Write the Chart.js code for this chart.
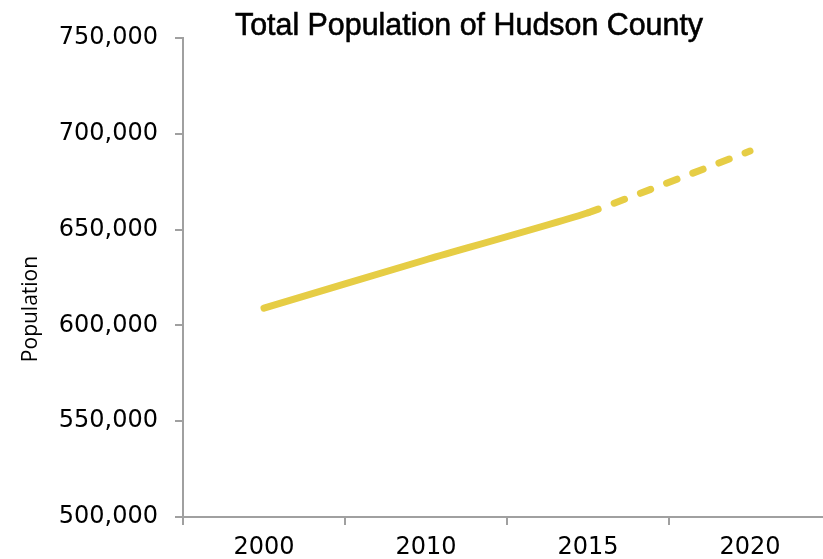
<!DOCTYPE html>
<html>
<head>
<meta charset="utf-8">
<script src="https://cdn.jsdelivr.net/npm/chart.js@4/dist/chart.umd.min.js"></script>
<style>
  html, body { margin: 0; padding: 0; background: #fff; width: 823px; height: 559px; overflow: hidden; }
  #wrap { width: 840px; height: 559px; }
</style>
</head>
<body>
<div id="wrap"><canvas id="c" width="840" height="559"></canvas></div>
<script>
const years = ['2000', '2010', '2015', '2020'];
const population = [608975, 634266, 658800, 691000];
const yTicks = [500000, 550000, 600000, 650000, 700000, 750000];
const chartTitle = 'Total Population of Hudson County';
const yAxisTitle = 'Population';

const axisGrey = '#A0A0A0';
const lineColor = '#E6CD45';
const tickFont = { family: '"DejaVu Sans", "Liberation Sans", Arial', size: 24 };

const textPlugin = {
  id: 'texts',
  afterDraw(chart) {
    const ctx = chart.ctx;
    // chart title
    ctx.save();
    ctx.font = '32px "Liberation Sans", Arial';
    ctx.fillStyle = '#000';
    ctx.strokeStyle = '#000';
    ctx.lineWidth = 0.6;
    ctx.textAlign = 'center';
    ctx.textBaseline = 'alphabetic';
    ctx.translate(469, 35);
    ctx.scale(0.95, 1);
    ctx.fillText(chartTitle, 0, 0);
    ctx.strokeText(chartTitle, 0, 0);
    ctx.restore();
    // y axis title
    ctx.save();
    ctx.font = '21px "Open Sans"';
    ctx.fillStyle = '#000';
    ctx.textAlign = 'center';
    ctx.textBaseline = 'middle';
    ctx.translate(31, 309);
    ctx.rotate(-Math.PI / 2);
    ctx.fillText(yAxisTitle, 0, 0);
    ctx.restore();
  }
};

new Chart(document.getElementById('c'), {
  type: 'line',
  data: {
    labels: years,
    datasets: [{
      data: population,
      borderColor: lineColor,
      borderWidth: 7,
      borderCapStyle: 'round',
      borderJoinStyle: 'round',
      pointRadius: 0,
      tension: 0.15,
      fill: false,
      segment: {
        borderDash: ctx => ctx.p0DataIndex >= 2 ? [11, 17] : undefined
      }
    }]
  },
  options: {
    responsive: false,
    animation: false,
    devicePixelRatio: 1,
    layout: { padding: { left: 0, right: 9, top: 38, bottom: 0 } },
    plugins: {
      legend: { display: false },
      tooltip: { enabled: false },
      title: { display: false }
    },
    scales: {
      x: {
        offset: true,
        grid: { offset: true, drawOnChartArea: false, drawTicks: true, tickLength: 8, color: axisGrey, lineWidth: 2 },
        border: { display: true, color: axisGrey, width: 2 },
        ticks: { color: '#000', font: tickFont, padding: 8, maxRotation: 0 },
        afterFit(scale) { scale.height = 42; }
      },
      y: {
        min: 500000,
        max: 750000,
        afterBuildTicks(scale) { scale.ticks = yTicks.map(v => ({ value: v })); },
        grid: { drawOnChartArea: false, drawTicks: true, tickLength: 8, color: axisGrey, lineWidth: 2 },
        border: { display: true, color: axisGrey, width: 2 },
        ticks: {
          color: '#000',
          font: tickFont,
          padding: 17,
          callback: v => Number(v).toLocaleString('en-US')
        },
        afterFit(scale) { scale.width = 183; }
      }
    }
  },
  plugins: [textPlugin]
});
</script>
</body>
</html>
